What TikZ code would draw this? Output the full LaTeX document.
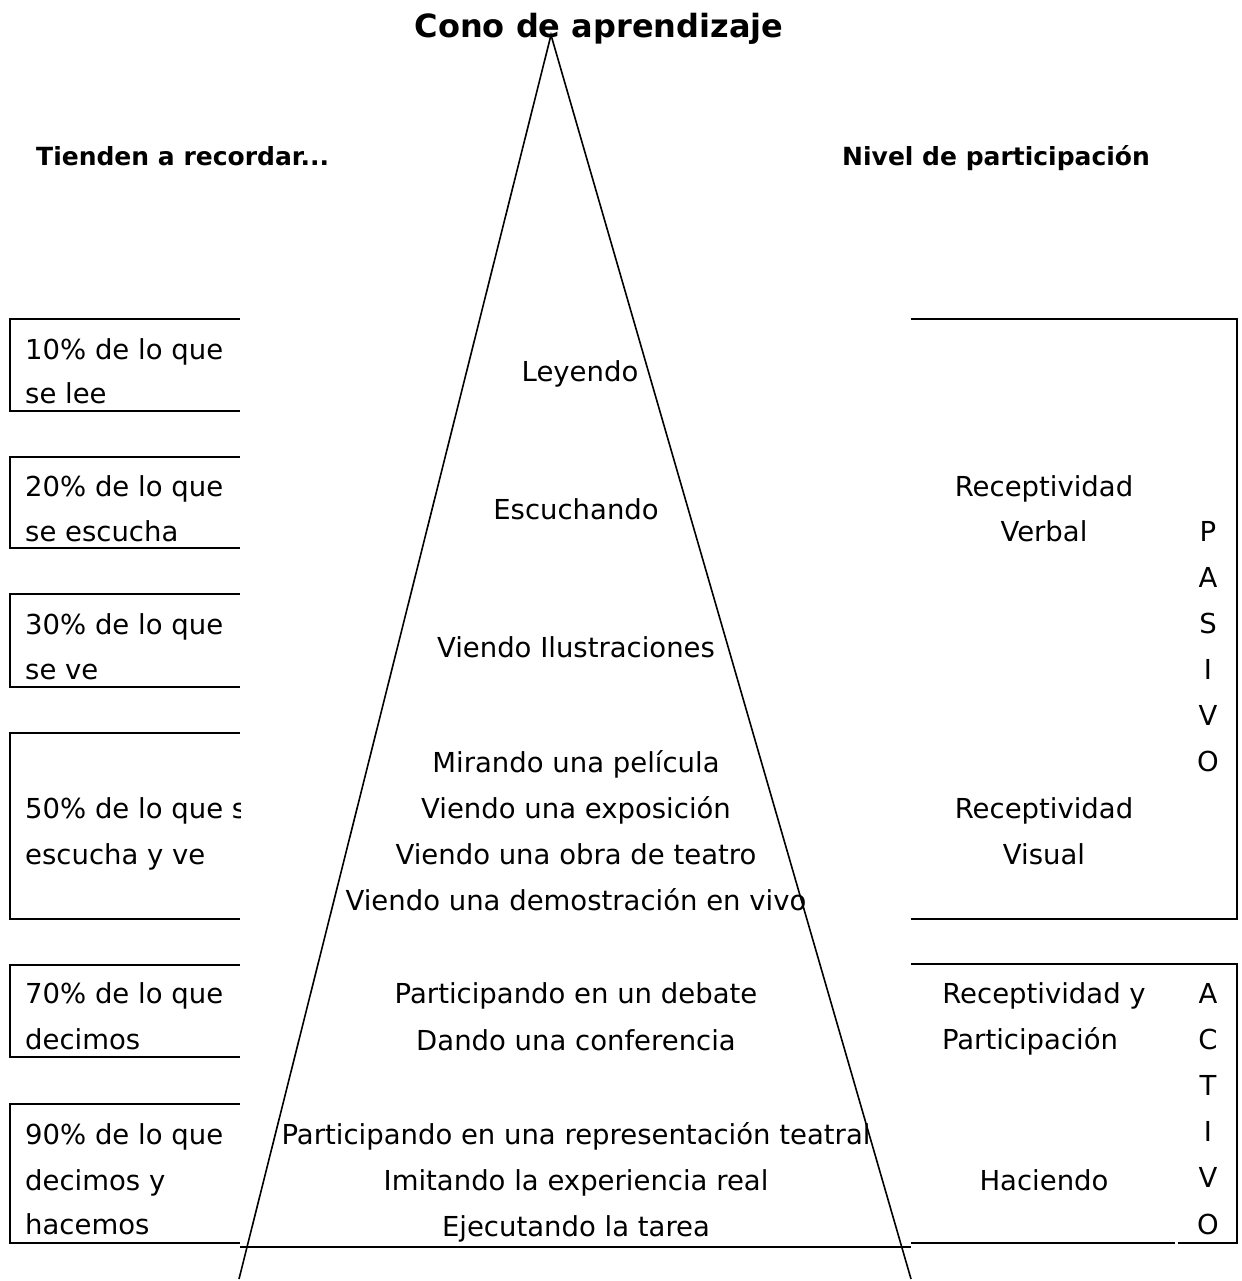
\documentclass[tikz,border=0pt]{standalone}
\usepackage{fontspec}
\setmainfont{DejaVu Sans}
\begin{document}
\begin{tikzpicture}[x=1pt,y=-1pt,
  boxline/.style={line width=2.4pt},
  coneline/.style={line width=1.6pt},
  txt/.style={inner sep=0pt,anchor=base,font=\fontsize{27.5}{33}\selectfont},
  ltxt/.style={txt,anchor=base west},
  head/.style={inner sep=0pt,anchor=base west,font=\fontsize{25}{30}\selectfont\bfseries},
  titletxt/.style={inner sep=0pt,anchor=base,font=\fontsize{32}{38}\selectfont\bfseries}]
\useasboundingbox (0,0) rectangle (1241,1281);

% cone
\coordinate (apex) at (551,35);
\coordinate (footL) at (239,1279);
\coordinate (footR) at (911,1279);
\draw[coneline] (footL) -- (apex) -- (footR);
\coordinate (baseL) at (240,1247);
\coordinate (baseR) at (911,1247);
\draw[boxline] (baseL) -- (baseR);

% titles
\node[titletxt] (title) at (599,38) {Cono de aprendizaje};
\node[head] (hleft) at (36,166) {Tienden a recordar...};
\node[head] (hright) at (842,166) {Nivel de participación};

% left boxes (open on the right)
\foreach \t/\b in {319/411, 457/548, 594/687, 733/919, 965/1057, 1104/1243}
  \draw[boxline] (240,\t) -- (10,\t) -- (10,\b) -- (240,\b);

\node[ltxt] (l1a) at (25,359) {10\% de lo que};
\node[ltxt] (l1b) at (25,403) {se lee};
\node[ltxt] (l2a) at (25,496) {20\% de lo que};
\node[ltxt] (l2b) at (25,541) {se escucha};
\node[ltxt] (l3a) at (25,634) {30\% de lo que};
\node[ltxt] (l3b) at (25,679) {se ve};
\begin{scope}
  \clip (0,700) rectangle (240,900);
  \node[ltxt] (l4a) at (25,818) {50\% de lo que s};
\end{scope}
\node[ltxt] (l4b) at (25,864) {escucha y ve};
\node[ltxt] (l5a) at (25,1003) {70\% de lo que};
\node[ltxt] (l5b) at (25,1049) {decimos};
\node[ltxt] (l6a) at (25,1144) {90\% de lo que};
\node[ltxt] (l6b) at (25,1190) {decimos y};
\node[ltxt] (l6c) at (25,1234) {hacemos};

% activities inside the cone
\node[txt] (c1) at (580,381) {Leyendo};
\node[txt] (c2) at (576,519) {Escuchando};
\node[txt] (c3) at (576,657) {Viendo Ilustraciones};
\node[txt] (c4a) at (576,772) {Mirando una película};
\node[txt] (c4b) at (576,818) {Viendo una exposición};
\node[txt] (c4c) at (576,864) {Viendo una obra de teatro};
\node[txt] (c4d) at (576,910) {Viendo una demostración en vivo};
\node[txt] (c5a) at (576,1003) {Participando en un debate};
\node[txt] (c5b) at (576,1050) {Dando una conferencia};
\node[txt] (c6a) at (576,1144) {Participando en una representación teatral};
\node[txt] (c6b) at (576,1190) {Imitando la experiencia real};
\node[txt] (c6c) at (576,1236) {Ejecutando la tarea};

% right boxes
\draw[boxline] (911,319) -- (1237,319) -- (1237,919) -- (911,919);
\draw[boxline] (911,964) -- (1237,964) -- (1237,1243) -- (1178,1243);
\draw[boxline] (911,1243) -- (1175,1243);

\node[txt] (r1a) at (1044,496) {Receptividad};
\node[txt] (r1b) at (1044,541) {Verbal};
\node[txt] (r2a) at (1044,818) {Receptividad};
\node[txt] (r2b) at (1044,864) {Visual};
\node[txt] (r3a) at (1044,1003) {Receptividad y};
\node[txt] (r3b) at (1030,1049) {Participación};
\node[txt] (r4) at (1044,1190) {Haciendo};

% vertical words
\foreach \ch [count=\i from 0] in {P,A,S,I,V,O}
  \node[txt] (pas\i) at (1208,541+46*\i) {\ch};
\foreach \ch [count=\i from 0] in {A,C,T,I,V,O}
  \node[txt] (act\i) at (1208,1003+46.2*\i) {\ch};
\end{tikzpicture}
\end{document}
